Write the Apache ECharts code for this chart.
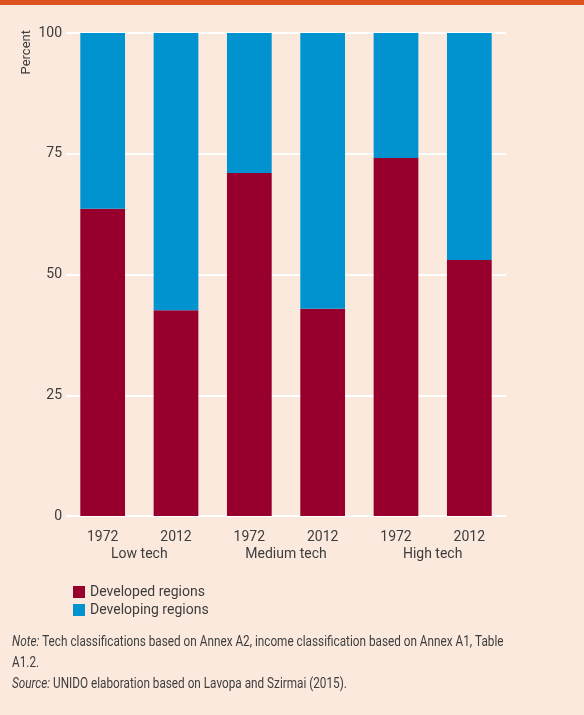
<!DOCTYPE html>
<html>
<head>
<meta charset="utf-8">
<script src="https://cdn.jsdelivr.net/npm/echarts@6/dist/echarts.min.js"></script>
<style>
  html, body { margin: 0; padding: 0; }
  body { width: 584px; height: 715px; background: #fce9de; }
  #chart { width: 584px; height: 715px; }
</style>
</head>
<body>
<div id="chart"></div>
<script>
const years = ['1972', '2012', '1972', '2012', '1972', '2012'];
const groups = ['Low tech', 'Medium tech', 'High tech'];
const developed = [63.6, 42.6, 71.0, 42.9, 74.1, 53.0];
const developing = [36.4, 57.4, 29.0, 57.3, 26.1, 47.0];
const yTicks = [0, 25, 50, 75, 100];

const FONT = 'Roboto, sans-serif';
const TEXT = '#3d3d3d';

const chart = echarts.init(document.getElementById('chart'));
chart.setOption({
  animation: false,
  textStyle: { fontFamily: FONT, color: TEXT },
  grid: { left: 66, right: 78, top: 33, height: 483, outerBoundsMode: 'none' },
  legend: {
    orient: 'vertical',
    left: 73,
    top: 585,
    padding: 0,
    icon: 'rect',
    itemWidth: 12,
    itemHeight: 12,
    itemGap: 4,
    textStyle: { fontFamily: FONT, fontSize: 14, color: TEXT },
    data: ['Developed regions', 'Developing regions'],
  },
  xAxis: [
    {
      type: 'category',
      data: years,
      axisLine: { show: false },
      axisTick: { show: false },
      axisLabel: { fontFamily: FONT, fontSize: 14, color: TEXT, margin: 14 },
    },
    {
      type: 'category',
      data: groups,
      position: 'bottom',
      axisLine: { show: false },
      axisTick: { show: false },
      axisLabel: { fontFamily: FONT, fontSize: 14, color: TEXT, margin: 31 },
    },
  ],
  yAxis: {
    type: 'value',
    min: yTicks[0],
    max: yTicks[yTicks.length - 1],
    interval: 25,
    axisLine: { show: false },
    axisTick: { show: false },
    axisLabel: { fontFamily: FONT, fontSize: 14, color: TEXT, margin: 4 },
    splitLine: { lineStyle: { color: '#ffffff', width: 2 } },
  },
  series: [
    {
      name: 'Developed regions',
      type: 'bar',
      stack: 'total',
      barWidth: '61%',
      itemStyle: { color: '#97002d' },
      data: developed,
    },
    {
      name: 'Developing regions',
      type: 'bar',
      stack: 'total',
      barWidth: '61%',
      itemStyle: { color: '#0093d0' },
      data: developing,
    },
  ],
  graphic: [
    {
      type: 'rect',
      left: 0,
      top: 0,
      shape: { width: 584, height: 5 },
      style: { fill: '#dc531f' },
    },
    {
      type: 'text',
      x: 20,
      y: 30,
      rotation: Math.PI / 2,
      style: {
        text: 'Percent',
        fontFamily: FONT,
        fontSize: 13,
        fill: TEXT,
        align: 'right',
        verticalAlign: 'top',
      },
    },
    {
      type: 'text',
      x: 12,
      y: 632,
      scaleX: 0.84,
      style: {
        text: '{i|Note:} Tech classifications based on Annex A2, income classification based on Annex A1, Table\nA1.2.\n{i|Source:} UNIDO elaboration based on Lavopa and Szirmai (2015).',
        fontFamily: FONT,
        fontSize: 14,
        lineHeight: 21,
        fill: TEXT,
        rich: {
          i: { fontStyle: 'italic', fontFamily: FONT, fontSize: 14, fill: TEXT },
        },
      },
    },
  ],
});
</script>
</body>
</html>
